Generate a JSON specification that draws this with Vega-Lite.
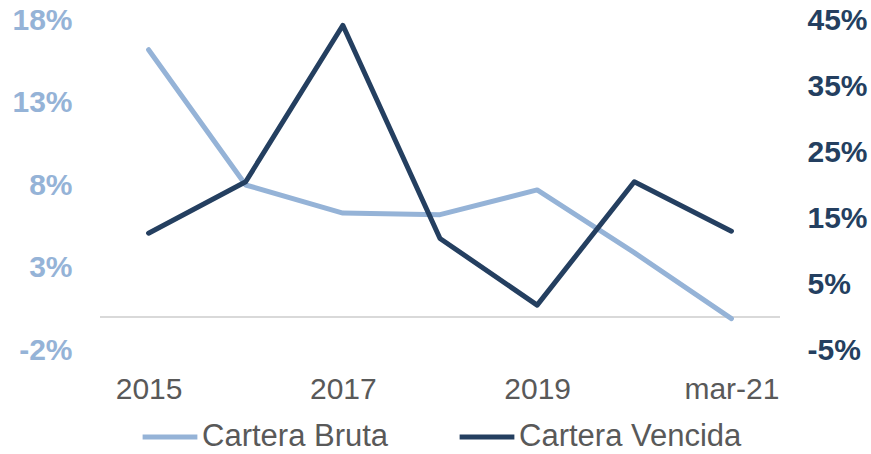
{
  "$schema": "https://vega.github.io/schema/vega-lite/v6.json",
  "width": 680,
  "height": 330,
  "autosize": "none",
  "padding": {"left": 100, "right": 91, "top": 20, "bottom": 104},
  "background": "white",
  "config": {
    "view": {"stroke": null},
    "font": "Liberation Sans",
    "axis": {"grid": false, "domain": false, "ticks": false, "tickSize": 0}
  },
  "data": {
    "values": [
      {"year": "2015", "serie": "Cartera Bruta", "v": 16.2},
      {"year": "2016", "serie": "Cartera Bruta", "v": 8.0},
      {"year": "2017", "serie": "Cartera Bruta", "v": 6.3},
      {"year": "2018", "serie": "Cartera Bruta", "v": 6.2},
      {"year": "2019", "serie": "Cartera Bruta", "v": 7.7},
      {"year": "2020", "serie": "Cartera Bruta", "v": 3.9},
      {"year": "mar-21", "serie": "Cartera Bruta", "v": -0.1},
      {"year": "2015", "serie": "Cartera Vencida", "v": 12.7},
      {"year": "2016", "serie": "Cartera Vencida", "v": 20.5},
      {"year": "2017", "serie": "Cartera Vencida", "v": 44.2},
      {"year": "2018", "serie": "Cartera Vencida", "v": 11.9},
      {"year": "2019", "serie": "Cartera Vencida", "v": 1.8},
      {"year": "2020", "serie": "Cartera Vencida", "v": 20.5},
      {"year": "mar-21", "serie": "Cartera Vencida", "v": 13.0}
    ]
  },
  "layer": [
    {
      "layer": [
        {
          "data": {"values": [{"z": 0}]},
          "mark": {"type": "rule", "color": "#D9D9D9", "strokeWidth": 2},
          "encoding": {
            "y": {"field": "z", "type": "quantitative", "title": null}
          }
        },
        {
          "transform": [{"filter": "datum.serie === 'Cartera Bruta'"}],
          "mark": {"type": "line", "strokeWidth": 5, "strokeCap": "round", "strokeJoin": "round"},
          "encoding": {
            "x": {
              "field": "year", "type": "ordinal", "sort": null,
              "scale": {"type": "point", "padding": 0.5},
              "axis": {
                "values": ["2015", "2017", "2019", "mar-21"],
                "labelAngle": 0, "labelFontSize": 30, "labelColor": "#595959",
                "labelBaseline": "alphabetic", "labelPadding": 48, "title": null
              }
            },
            "y": {
              "field": "v", "type": "quantitative", "title": null,
              "scale": {"domain": [-2, 18], "nice": false, "zero": false},
              "axis": {
                "orient": "left", "values": [-2, 3, 8, 13, 18],
                "labelExpr": "datum.value + '%'",
                "labelFontSize": 30, "labelFontWeight": "bold",
                "labelColor": "#95B3D7", "labelPadding": 28, "title": null
              }
            },
            "color": {
              "field": "serie", "type": "nominal",
              "scale": {"domain": ["Cartera Bruta", "Cartera Vencida"], "range": ["#95B3D7", "#243F60"]},
              "legend": {
                "orient": "none", "legendX": 40, "legendY": 387,
                "direction": "horizontal", "title": null,
                "symbolType": "stroke", "symbolStrokeWidth": 5, "symbolSize": 3000,
                "labelFontSize": 31, "labelColor": "#595959", "labelLimit": 500,
                "columnPadding": 60, "labelOffset": 2, "padding": 0
              }
            }
          }
        }
      ]
    },
    {
      "transform": [{"filter": "datum.serie === 'Cartera Vencida'"}],
      "mark": {"type": "line", "strokeWidth": 5, "strokeCap": "round", "strokeJoin": "round"},
      "encoding": {
        "x": {"field": "year", "type": "ordinal", "sort": null, "scale": {"type": "point", "padding": 0.5}},
        "y": {
          "field": "v", "type": "quantitative", "title": null,
          "scale": {"domain": [-5, 45], "nice": false, "zero": false},
          "axis": {
            "orient": "right", "values": [-5, 5, 15, 25, 35, 45],
            "labelExpr": "datum.value + '%'",
            "labelFontSize": 30, "labelFontWeight": "bold",
            "labelColor": "#243F60", "labelPadding": 27, "title": null
          }
        },
        "color": {"field": "serie", "type": "nominal"}
      }
    }
  ],
  "resolve": {"scale": {"y": "independent"}}
}
